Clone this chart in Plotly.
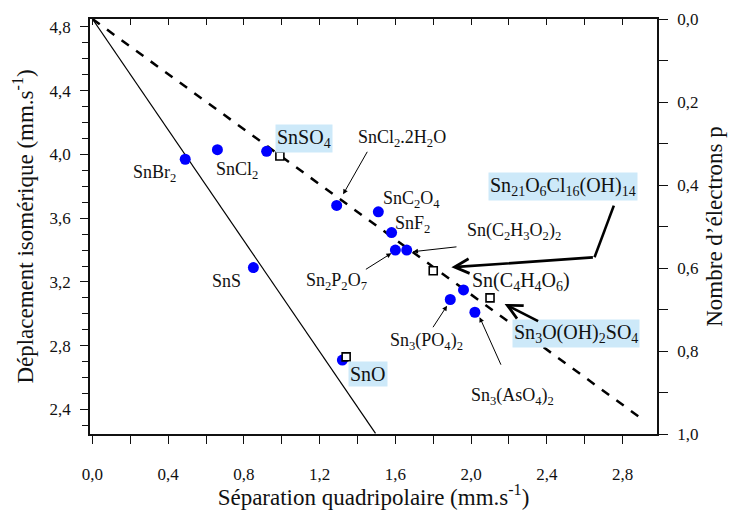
import plotly.graph_objects as go

# ---- data ----
circle_names = ["SnBr2", "SnCl2", "SnSO4", "SnCl2.2H2O", "SnC2O4", "SnF2", "Sn2P2O7",
                "Sn(C2H3O2)2", "Sn(C4H4O6)", "Sn3(PO4)2", "Sn3(AsO4)2", "SnS", "SnO"]
circle_qs = [0.49, 0.66, 0.92, 1.29, 1.51, 1.58, 1.60, 1.66, 1.96, 1.89, 2.02, 0.85, 1.32]
circle_is = [3.97, 4.03, 4.02, 3.68, 3.64, 3.51, 3.40, 3.40, 3.15, 3.09, 3.01, 3.29, 2.71]

square_names = ["SnSO4", "Sn21O6Cl16(OH)14", "Sn3O(OH)2SO4", "SnO"]
square_qs = [0.99, 1.80, 2.10, 1.34]
square_is = [3.99, 3.27, 3.10, 2.73]

dash_line_qs = [0.0, 2.915]
dash_line_is = [4.85, 2.33]
solid_line_qs = [0.0, 1.495]
solid_line_is = [4.85, 2.25]

FONT = "Liberation Serif, DejaVu Serif, serif"
BLACK = "#111111"

fig = go.Figure()
fig.add_trace(go.Scatter(x=dash_line_qs, y=dash_line_is, mode="lines",
                         line=dict(color="black", width=2.5, dash="dash"),
                         hoverinfo="skip", showlegend=False))
fig.add_trace(go.Scatter(x=solid_line_qs, y=solid_line_is, mode="lines",
                         line=dict(color="black", width=1.2),
                         hoverinfo="skip", showlegend=False))
fig.add_trace(go.Scatter(x=circle_qs, y=circle_is, mode="markers", text=circle_names,
                         marker=dict(color="#0000ff", size=11, line=dict(width=0)),
                         showlegend=False))
fig.add_trace(go.Scatter(x=square_qs, y=square_is, mode="markers", text=square_names,
                         marker=dict(symbol="square", color="white", size=8,
                                     line=dict(color="black", width=1.6)),
                         showlegend=False))
fig.add_trace(go.Scatter(x=[None], y=[None], yaxis="y2", showlegend=False))
fig.add_trace(go.Scatter(x=[None], y=[None], xaxis="x2", showlegend=False))

HL = "#cde9f9"

def lab(text, x, y, bg=None, size=18):
    fig.add_annotation(x=x, y=y, text=text, showarrow=False,
                       font=dict(family=FONT, size=size, color=BLACK),
                       bgcolor=bg if bg else "rgba(0,0,0,0)", borderpad=1)

def arrow(x, y, ax, ay, width=1.0, head=2, size=1.0):
    fig.add_annotation(x=x, y=y, ax=ax, ay=ay, text="", showarrow=True,
                       arrowhead=head, arrowwidth=width, arrowsize=size,
                       arrowcolor="black")

lab("SnBr<sub>2</sub>", 0.33, 3.88)
lab("SnCl<sub>2</sub>", 0.762, 3.90)
lab("SnSO<sub>4</sub>", 1.116, 4.10, bg=HL, size=20)
lab("SnCl<sub>2</sub>.2H<sub>2</sub>O", 1.634, 4.10)
lab("SnC<sub>2</sub>O<sub>4</sub>", 1.685, 3.72)
lab("SnF<sub>2</sub>", 1.693, 3.56)
lab("Sn(C<sub>2</sub>H<sub>3</sub>O<sub>2</sub>)<sub>2</sub>", 2.227, 3.516)
lab("Sn<sub>2</sub>P<sub>2</sub>O<sub>7</sub>", 1.288, 3.20)
lab("Sn<sub>21</sub>O<sub>6</sub>Cl<sub>16</sub>(OH)<sub>14</sub>", 2.485, 3.80, bg=HL, size=20)
lab("Sn(C<sub>4</sub>H<sub>4</sub>O<sub>6</sub>)", 2.265, 3.20, size=20)
lab("Sn<sub>3</sub>O(OH)<sub>2</sub>SO<sub>4</sub>", 2.556, 2.878, bg=HL, size=20)
lab("Sn<sub>3</sub>(PO<sub>4</sub>)<sub>2</sub>", 1.764, 2.825)
lab("Sn<sub>3</sub>(AsO<sub>4</sub>)<sub>2</sub>", 2.221, 2.48)
lab("SnS", 0.708, 3.206)
lab("SnO", 1.454, 2.62, bg=HL, size=20)

arrow(1.324, 3.750, 25, -44)
arrow(1.693, 3.390, 45, -5)
arrow(1.579, 3.380, -27, 17)
arrow(1.873, 3.051, -15, 23)
arrow(2.045, 2.979, 22, 49)
arrow(1.896, 3.292, 143, -10, width=2.6, head=5, size=1.1)
arrow(2.177, 3.062, 35, 18, width=2.6, head=5, size=1.1)
fig.add_shape(type="line", x0=2.652, y0=3.355, x1=2.754, y1=3.679,
              line=dict(color="black", width=2.6))

tickfont = dict(family=FONT, size=17, color=BLACK)
titlefont = dict(family=FONT, size=23, color=BLACK)

fig.update_layout(
    width=730, height=510,
    margin=dict(l=90, r=73, t=19, b=76, autoexpand=False),
    paper_bgcolor="white", plot_bgcolor="white",
    separators=",.",
    font=dict(family=FONT, color=BLACK),
    xaxis=dict(range=[-0.013, 2.982], dtick=0.4, tick0=0, tickformat=".1f", automargin=False,
               ticks="outside", ticklen=8, tickwidth=1.2, tickcolor=BLACK,
               minor=dict(dtick=0.2, tick0=0, ticks="outside", ticklen=8, tickwidth=1.2, tickcolor=BLACK),
               showline=True, linecolor=BLACK, linewidth=1.5, mirror=True,
               showgrid=False, zeroline=False, tickfont=tickfont, ticklabelstandoff=16,
               title=dict(text="Séparation quadripolaire (mm.s<sup>-1</sup>)", font=titlefont, standoff=4)),
    xaxis2=dict(range=[-0.013, 2.982], overlaying="x", side="top", dtick=0.2, tick0=0, automargin=False,
                ticks="inside", ticklen=6, tickwidth=1.2, tickcolor=BLACK,
                showticklabels=False, showgrid=False, zeroline=False, showline=False),
    yaxis=dict(range=[2.246, 4.850], dtick=0.4, tick0=2.4, tickformat=".1f", automargin=False,
               ticks="outside", ticklen=8, tickwidth=1.2, tickcolor=BLACK,
               minor=dict(dtick=0.1, tick0=2.4, ticks="outside", ticklen=6, tickwidth=1.2, tickcolor=BLACK),
               showline=True, linecolor=BLACK, linewidth=1.5,
               showgrid=False, zeroline=False, tickfont=tickfont, ticklabelstandoff=6,
               title=dict(text="Déplacement isomérique (mm.s<sup>-1</sup>)", font=titlefont, standoff=10)),
    yaxis2=dict(range=[1.0, 0.0], overlaying="y", side="right", dtick=0.2, tick0=0, automargin=False,
                tickformat=".1f", ticks="outside", ticklen=9, tickwidth=1.2, tickcolor=BLACK,
                minor=dict(dtick=0.1, tick0=0, ticks="outside", ticklen=9, tickwidth=1.2, tickcolor=BLACK),
                showline=True, linecolor=BLACK, linewidth=1.5,
                showgrid=False, zeroline=False, tickfont=tickfont, ticklabelstandoff=6,
                title=dict(text="Nombre d’électrons p", font=titlefont, standoff=8)),
)

fig.write_html("out.html", config={"displayModeBar": False},
               post_script="document.body.style.margin='0';document.body.style.padding='0';")
